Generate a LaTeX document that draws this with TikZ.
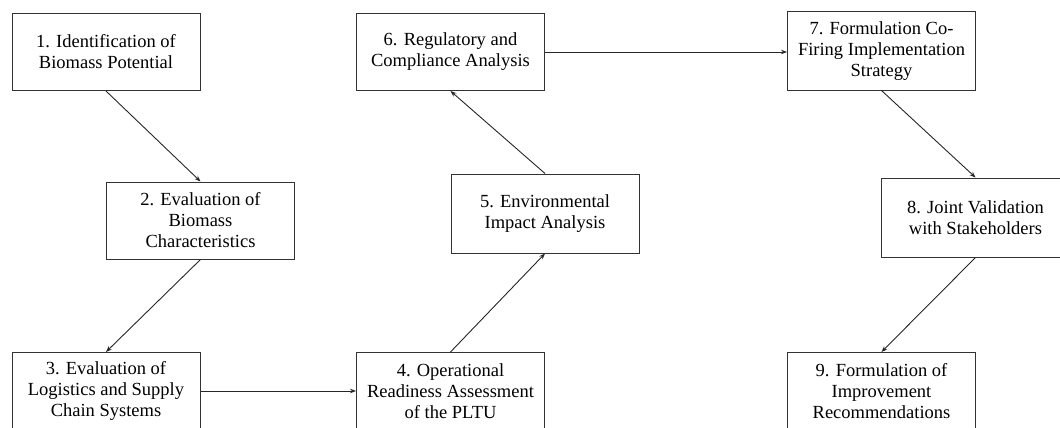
\documentclass[tikz,border=0pt]{standalone}
\usepackage{fontspec}
\setmainfont{Liberation Serif}
\usetikzlibrary{arrows.meta}
\begin{document}
\begin{tikzpicture}[x=1pt,y=-1pt,
  stepbox/.style={draw=black!80,line width=1pt,inner sep=0pt,align=center,
    minimum width=188pt,minimum height=77pt,
    font=\fontsize{18.5}{21}\selectfont},
  flow/.style={draw=black!85,line width=0.9pt,-{Stealth[length=6pt,width=4.5pt]}}]
\useasboundingbox (0,0) rectangle (1060,428);
\node[stepbox] (b1) at (106,52) {1. Identification of\\Biomass Potential};
\node[stepbox] (b2) at (200.5,220.5) {2. Evaluation of\\Biomass\\Characteristics};
\node[stepbox] (b3) at (106,391) {3. Evaluation of\\Logistics and Supply\\Chain Systems};
\node[stepbox] (b4) at (450.5,391) {4. Operational\\Readiness Assessment\\of the PLTU};
\node[stepbox,minimum height=79pt] (b5) at (545,213.5) {5. Environmental\\Impact Analysis};
\node[stepbox] (b6) at (450.5,52) {6. Regulatory and\\Compliance Analysis};
\node[stepbox,minimum height=78pt] (b7) at (881.5,51) {7. Formulation Co-\\Firing Implementation\\Strategy};
\node[stepbox,minimum height=79pt] (b8) at (975.5,217.5) {8. Joint Validation\\with Stakeholders};
\node[stepbox] (b9) at (881.5,391) {9. Formulation of\\Improvement\\Recommendations};
\draw[flow] (b1.south) -- (b2.north);
\draw[flow] (b2.south) -- (b3.north);
\draw[flow] (b3.east) -- (b4.west);
\draw[flow] (b4.north) -- (b5.south);
\draw[flow] (b5.north) -- (b6.south);
\draw[flow] (b6.east) -- (b7.west |- b6.east);
\draw[flow] (b7.south) -- (b8.north);
\draw[flow] (b8.south) -- (b9.north);
\end{tikzpicture}
\end{document}
